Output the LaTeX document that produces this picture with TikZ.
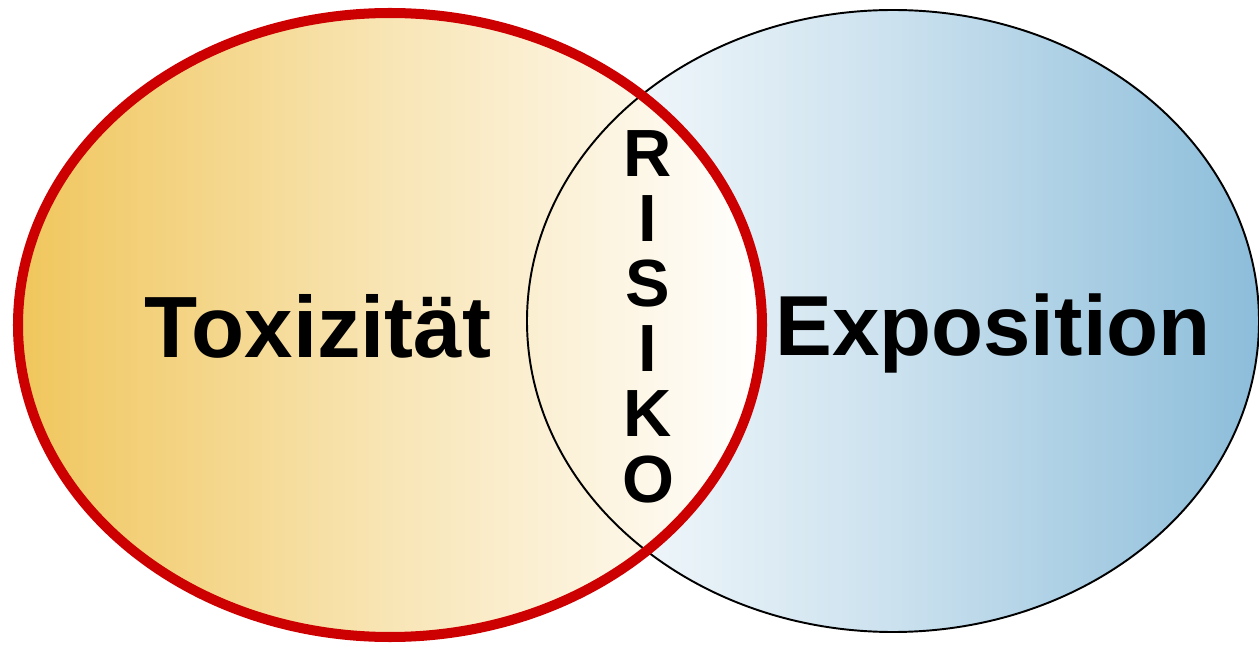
\documentclass[tikz,border=0pt]{standalone}
\usepackage{fontspec}
\setmainfont{Liberation Sans}
\definecolor{toxorange}{HTML}{F0C65C}
\definecolor{expoblue}{HTML}{8CBDDA}
\definecolor{toxred}{HTML}{CC0000}
\begin{document}
\begin{tikzpicture}[x=0.02cm, y=-0.02cm,
  word/.style={font=\fontsize{49.5}{49.5}\selectfont\bfseries, anchor=base, inner sep=0pt},
  letter/.style={font=\fontsize{38}{38}\selectfont\bfseries, anchor=base, inner sep=0pt}]
  \useasboundingbox (0,0) rectangle (1259,645);
  % fills
  \shade[left color=white, right color=expoblue, middle color=expoblue!45!white]
    (893,321) ellipse [x radius=366, y radius=311];
  \shade[left color=toxorange, right color=white, middle color=toxorange!45!white]
    (390,325) ellipse [x radius=372, y radius=312];
  % borders
  \draw[line width=1.1pt] (893,321) ellipse [x radius=366, y radius=311];
  \draw[toxred, line width=5.7pt] (390,325) ellipse [x radius=372, y radius=312];
  % labels
  \node[word] (tox)  at (318,358) {Toxizität};
  \node[word, font=\fontsize{48.5}{48.5}\selectfont\bfseries] (expo) at (993,356) {Exposition};
  \foreach \ch [count=\i] in {R,I,S,I,K,O}
    \node[letter] (r\i) at (648,{177+65*(\i-1)}) {\ch};
\end{tikzpicture}
\end{document}
